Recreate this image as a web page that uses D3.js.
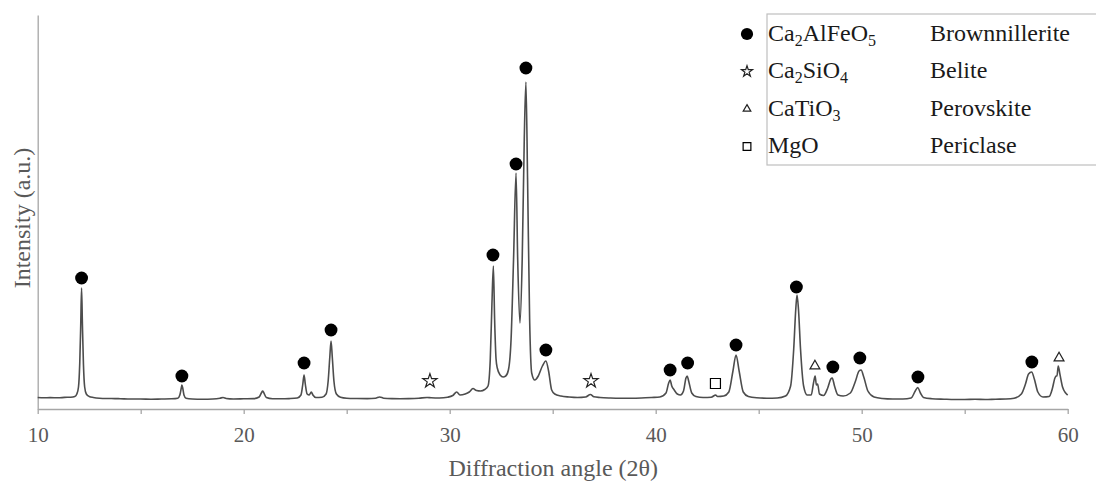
<!DOCTYPE html>
<html>
<head>
<meta charset="utf-8">
<script src="https://cdn.jsdelivr.net/npm/d3@7"></script>
<style>
  html, body { margin: 0; padding: 0; background: #fff; }
  svg { display: block; }
</style>
</head>
<body>
<div id="chart"></div>
<script>
// Diffraction pattern: [2θ, intensity (a.u.)]
const pattern = [
  [10.0, 115], [10.3, 112], [10.6, 114], [11.0, 112], [11.3, 116], [11.6, 118], [11.8, 125],
  [11.9, 150], [11.98, 220], [12.04, 450], [12.09, 850], [12.13, 1210], [12.17, 850], [12.22, 450],
  [12.28, 220], [12.36, 150], [12.5, 125], [12.7, 115], [13.0, 108], [13.5, 105], [14.0, 103],
  [14.5, 100], [15.0, 100], [15.5, 98], [16.0, 100], [16.5, 102], [16.8, 108], [16.9, 140],
  [16.97, 210], [17.0, 240], [17.04, 210], [17.1, 140], [17.2, 108], [17.5, 100], [18.0, 98],
  [18.5, 100], [18.85, 108], [19.0, 115], [19.15, 105], [19.5, 100], [20.0, 102], [20.5, 104],
  [20.75, 120], [20.87, 165], [20.92, 180], [20.97, 165], [21.1, 115], [21.4, 103], [21.8, 102],
  [22.2, 104], [22.6, 110], [22.78, 140], [22.87, 250], [22.93, 340], [22.99, 250], [23.08, 150],
  [23.18, 140], [23.28, 170], [23.36, 140], [23.5, 115], [23.8, 118], [24.0, 150], [24.1, 280],
  [24.18, 520], [24.24, 680], [24.3, 520], [24.38, 280], [24.5, 150], [24.7, 118], [25.0, 108],
  [25.5, 105], [26.0, 104], [26.4, 108], [26.6, 120], [26.8, 108], [27.2, 104], [27.6, 103],
  [28.0, 104], [28.5, 108], [28.9, 115], [29.1, 112], [29.5, 110], [29.9, 118], [30.15, 135],
  [30.34, 170], [30.5, 140], [30.75, 150], [30.95, 170], [31.13, 205], [31.3, 185], [31.5, 180],
  [31.7, 195], [31.86, 230], [31.97, 500], [32.05, 1050], [32.12, 1430], [32.18, 900], [32.25, 500],
  [32.31, 410], [32.45, 340], [32.59, 320], [32.72, 330], [32.85, 390], [32.98, 700], [33.1, 1500],
  [33.22, 2360], [33.3, 1500], [33.41, 860], [33.52, 1500], [33.62, 2700], [33.70, 3270],
  [33.78, 2300], [33.88, 900], [33.98, 360], [34.13, 290], [34.3, 330], [34.5, 430], [34.67, 480],
  [34.8, 380], [34.95, 190], [35.1, 150], [35.4, 130], [35.8, 120], [36.2, 115], [36.6, 120],
  [36.83, 145], [37.0, 122], [37.3, 115], [37.8, 110], [38.3, 108], [38.8, 108], [39.3, 110],
  [39.8, 115], [40.2, 120], [40.5, 160], [40.63, 260], [40.7, 290], [40.78, 230], [40.9, 190],
  [41.05, 150], [41.2, 140], [41.35, 180], [41.47, 310], [41.53, 330], [41.6, 280], [41.75, 160],
  [41.95, 125], [42.3, 115], [42.7, 118], [42.85, 135], [42.91, 140], [43.0, 125], [43.3, 130],
  [43.55, 170], [43.75, 380], [43.9, 540], [44.05, 380], [44.25, 170], [44.5, 125], [44.9, 112],
  [45.4, 108], [45.9, 110], [46.3, 130], [46.55, 230], [46.7, 600], [46.8, 1000], [46.86, 1140],
  [46.93, 1000], [47.03, 600], [47.18, 230], [47.35, 140], [47.55, 140], [47.66, 260], [47.74, 330],
  [47.8, 240], [47.86, 250], [47.95, 150], [48.15, 135], [48.35, 210], [48.5, 300], [48.57, 310],
  [48.68, 230], [48.85, 140], [49.1, 130], [49.45, 160], [49.7, 280], [49.87, 380], [49.97, 390],
  [50.1, 320], [50.3, 180], [50.6, 120], [51.0, 105], [51.5, 100], [52.0, 100], [52.4, 110],
  [52.6, 180], [52.72, 215], [52.85, 160], [53.0, 115], [53.4, 103], [54.0, 98], [54.5, 95],
  [55.0, 95], [55.5, 97], [56.0, 95], [56.5, 98], [57.0, 100], [57.4, 108], [57.75, 150],
  [57.95, 250], [58.1, 350], [58.25, 370], [58.38, 300], [58.55, 170], [58.8, 120], [59.1, 125],
  [59.25, 200], [59.38, 310], [59.44, 330], [59.48, 330], [59.54, 430], [59.62, 350], [59.75, 220],
  [59.9, 160], [60.0, 140]
];

// Phase markers: [2θ, intensity where the symbol sits]
const brownmilleritePeaks = [
  [12.13, 1310], [17.0, 330], [22.93, 460], [24.24, 790], [32.10, 1540], [33.22, 2450],
  [33.70, 3410], [34.67, 590], [40.70, 390], [41.55, 460], [43.90, 640], [46.83, 1220],
  [48.60, 420], [49.91, 510], [52.73, 320], [58.26, 470]
];
const belitePeaks = [[29.04, 280], [36.86, 280]];
const perovskitePeaks = [[47.73, 430], [59.58, 510]];
const periclasePeaks = [[42.90, 255]];

const phases = [
  { symbol: "circle", formula: [["Ca", ""], ["2", "sub"], ["AlFeO", ""], ["5", "sub"]], name: "Brownnillerite", peaks: brownmilleritePeaks },
  { symbol: "star", formula: [["Ca", ""], ["2", "sub"], ["SiO", ""], ["4", "sub"]], name: "Belite", peaks: belitePeaks },
  { symbol: "triangle", formula: [["CaTiO", ""], ["3", "sub"]], name: "Perovskite", peaks: perovskitePeaks },
  { symbol: "square", formula: [["MgO", ""]], name: "Periclase", peaks: periclasePeaks }
];

const xTicks = [10, 15, 20, 25, 30, 35, 40, 45, 50, 55, 60];

const width = 1096, height = 481;
const margin = { top: 15, right: 28.3, bottom: 72, left: 37.7 };

const svg = d3.select("#chart").append("svg")
  .attr("width", width)
  .attr("height", height)
  .style("font-family", "'Liberation Serif', 'Times New Roman', serif");

const x = d3.scaleLinear().domain([10, 60]).range([margin.left, width - margin.right]);
const y = d3.scaleLinear().domain([0, 3940]).range([height - margin.bottom, margin.top]);

const axisColor = "#a6a6a6";
const textGray = "#595959";

// x axis
const xAxis = svg.append("g")
  .attr("transform", `translate(0,${y(0)})`)
  .call(d3.axisBottom(x).tickValues(xTicks)
    .tickFormat(d => d % 10 === 0 ? d : "")
    .tickSize(5).tickSizeOuter(0).tickPadding(13));
xAxis.select(".domain").attr("stroke", axisColor).attr("stroke-width", 1.3);
xAxis.selectAll(".tick line").attr("stroke", axisColor).attr("stroke-width", 1.3);
xAxis.selectAll(".tick text")
  .attr("fill", textGray)
  .style("font-family", "'Liberation Serif', 'Times New Roman', serif")
  .style("font-size", "21px");

// y axis (line only)
const yAxis = svg.append("g")
  .attr("transform", `translate(${x(10)},0)`)
  .call(d3.axisLeft(y).ticks(0).tickSizeOuter(0));
yAxis.select(".domain").attr("stroke", axisColor).attr("stroke-width", 1.3);

// axis titles
svg.append("text")
  .attr("x", (x(10) + x(60)) / 2 + 0.5)
  .attr("y", 476)
  .attr("text-anchor", "middle")
  .attr("fill", textGray)
  .style("font-size", "24px")
  .text("Diffraction angle (2θ)");

svg.append("text")
  .attr("transform", `translate(30,218) rotate(-90)`)
  .attr("text-anchor", "middle")
  .attr("fill", textGray)
  .style("font-size", "24px")
  .text("Intensity (a.u.)");

// pattern
const line = d3.line()
  .x(d => x(d[0]))
  .y(d => y(d[1]))
  .curve(d3.curveMonotoneX);

svg.append("path")
  .datum(pattern)
  .attr("fill", "none")
  .attr("stroke", "#4d4d4d")
  .attr("stroke-width", 1.6)
  .attr("stroke-linejoin", "round")
  .attr("d", line);

// symbols
const symbolDefs = {
  circle: { type: d3.symbolCircle, size: 130, fill: "#000", stroke: "none" },
  star: { type: d3.symbolStar, size: 62, fill: "#fff", stroke: "#222" },
  triangle: { type: d3.symbolTriangle, size: 42, fill: "#fff", stroke: "#222" },
  square: { type: d3.symbolSquare, size: 100, fill: "#fff", stroke: "#000" }
};

function drawSymbol(sel, key, scale) {
  const s = symbolDefs[key];
  sel.attr("d", d3.symbol().type(s.type).size(s.size * (scale || 1)))
    .attr("fill", s.fill)
    .attr("stroke", s.stroke)
    .attr("stroke-width", 1.2);
}

phases.forEach(p => {
  svg.append("g").selectAll("path")
    .data(p.peaks)
    .join("path")
    .attr("transform", d => `translate(${x(d[0])},${y(d[1])})`)
    .call(drawSymbol, p.symbol);
});

// legend
const legend = svg.append("g");
legend.append("rect")
  .attr("x", 767).attr("y", 14)
  .attr("width", 340).attr("height", 151)
  .attr("fill", "#fff")
  .attr("stroke", "#bfbfbf")
  .attr("stroke-width", 1.2);

const legendScale = { circle: 0.9, star: 0.6, triangle: 0.6, square: 0.6 };
const row = d3.scaleLinear().domain([0, 1]).range([34, 71.5]);
phases.forEach((p, i) => {
  const cy = row(i);
  legend.append("path")
    .attr("transform", `translate(747,${cy})`)
    .call(drawSymbol, p.symbol, legendScale[p.symbol]);
  const t = legend.append("text")
    .attr("x", 768).attr("y", cy + 6.7)
    .attr("fill", "#1a1a1a")
    .style("font-size", "24px");
  p.formula.forEach(([s, kind], k) => {
    if (kind === "sub") {
      t.append("tspan").attr("dy", 5).style("font-size", "16px").text(s);
    } else {
      t.append("tspan").attr("dy", k === 0 ? 0 : -5).text(s);
    }
  });
  legend.append("text")
    .attr("x", 930).attr("y", cy + 6.7)
    .attr("fill", "#1a1a1a")
    .style("font-size", "24px")
    .text(p.name);
});
</script>
</body>
</html>
